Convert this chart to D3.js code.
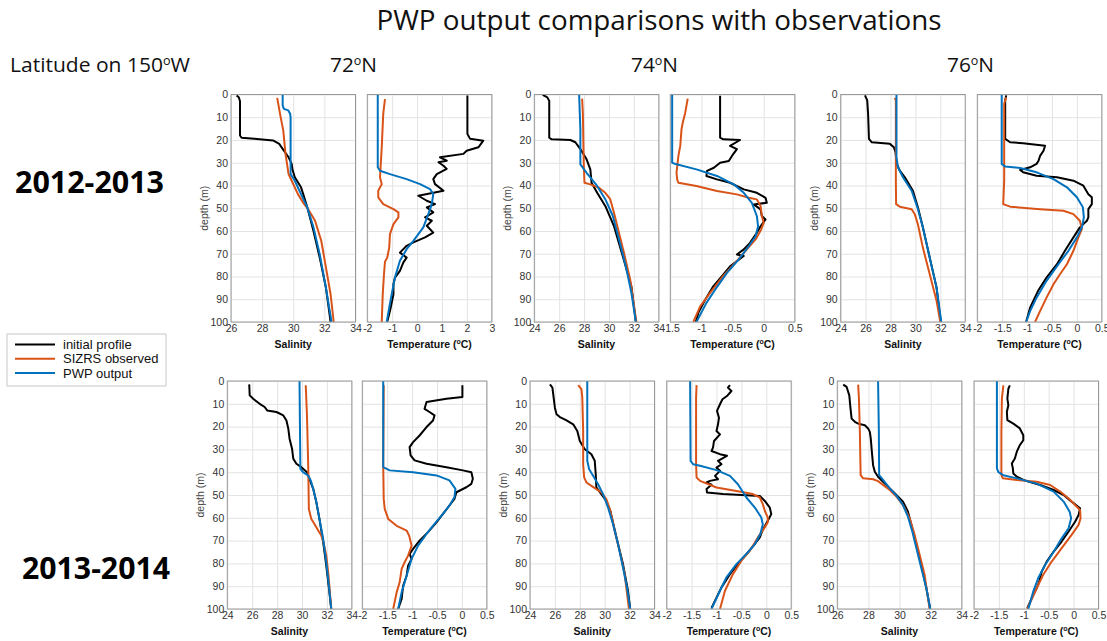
<!DOCTYPE html>
<html>
<head>
<meta charset="utf-8">
<script src="https://cdn.jsdelivr.net/npm/d3@7"></script>
<style>
  html, body { margin: 0; padding: 0; background: #fff; }
  svg { display: block; }
</style>
</head>
<body>
<svg id="chart" width="1107" height="641"></svg>
<script>
// ---------------- DATA (depth m, value) ----------------
const years = ["2012-2013", "2013-2014"];
const latitudes = ["72", "74", "76"];
const seriesNames = ["initial profile", "SIZRS observed", "PWP output"];

// Tick labels / axis domains
const depthTicks = [0,10,20,30,40,50,60,70,80,90,100];
const salTicks26 = [26,28,30,32,34];
const salTicks24 = [24,26,28,30,32,34];
const tempTicksA = [-2,-1,0,1,2,3];
const tempTicksB = [-1.5,-1,-0.5,0,0.5];
const tempTicksC = [-2,-1.5,-1,-0.5,0,0.5];

// 2012-2013, 72N salinity
const s72a_init = [[0.4,26.36],[1.2,26.5],[3,26.58],[18,26.58],[19,26.68],[19.5,27.5],[20.2,28.7],[21.7,29.1],[24.7,29.4],[27.6,29.7],[30.5,29.9],[33,29.95],[36.4,30.1],[40.8,30.5],[44,30.65],[49.6,30.9],[60,31.3],[71.7,31.7],[84.9,32.1],[100,32.4]];
const s72a_obs  = [[1.5,28.97],[8.5,29.15],[15.9,29.36],[26,29.5],[35,29.7],[37.9,29.9],[43.8,30.3],[48.2,30.7],[50.4,30.96],[55.5,31.4],[64.3,31.8],[76,32.1],[87.8,32.4],[100,32.6]];
const s72a_pwp  = [[0,29.32],[4.8,29.32],[6.3,29.4],[7,29.68],[8.5,29.8],[10,29.83],[35,29.83],[37.9,30.1],[43.8,30.5],[49.6,30.9],[58.4,31.3],[70.2,31.7],[85,32.1],[100,32.46]];
// 2012-2013, 72N temperature
const t72a_init = [[0.4,2.02],[17.3,2.02],[19.5,2.13],[20.3,2.66],[23.2,2.46],[24.7,1.99],[26.1,1.86],[27.6,0.92],[29.1,1.19],[29.8,0.86],[31.3,1.06],[32.7,1.19],[35,0.79],[37.2,0.65],[39.4,0.72],[42.3,1.06],[44.5,0.05],[46.7,0.39],[48.2,0.72],[49.6,0.39],[51.8,0.65],[54,0.32],[55.5,0.59],[57.7,0.39],[60.7,0.65],[62.8,0.32],[65,-0.15],[66.5,-0.42],[69.5,-0.69],[71.7,-0.42],[73.8,-0.55],[77.5,-0.69],[80.5,-0.89],[83.4,-0.95],[87.8,-0.95],[93.7,-1.06],[100,-1.2]];
const t72a_obs  = [[2,-1.29],[8.5,-1.36],[23.2,-1.42],[36.4,-1.49],[39.4,-1.42],[42.3,-1.56],[45.2,-1.56],[48.2,-1.36],[50.4,-0.95],[51.8,-0.75],[54,-0.75],[57,-0.95],[61.4,-1.09],[67.3,-1.12],[71.7,-1.2],[73.5,-1.29],[79,-1.33],[87.8,-1.38],[100,-1.42]];
const t72a_pwp  = [[0,-1.58],[32,-1.58],[33.5,-1.49],[35,-1.09],[37.2,-0.42],[39.4,0.12],[41.6,0.52],[43.8,0.65],[48.2,0.59],[52.6,0.45],[58.4,0.25],[61.4,0.05],[64.3,-0.15],[68,-0.42],[73.1,-0.69],[80.5,-0.89],[87.8,-1.02],[93.7,-1.12],[100,-1.22]];
// 2012-2013, 74N salinity
const s74a_init = [[0.2,24.68],[1.3,25.05],[2.8,25.2],[19,25.2],[19.7,25.4],[20,26.9],[21,27.3],[24,27.7],[28.5,28.2],[32.9,28.5],[38.8,28.6],[43.2,29.05],[49,29.7],[57.9,30.4],[71,31.1],[84.3,31.8],[100,32.16]];
const s74a_obs  = [[1.8,27.84],[8,27.9],[30,27.97],[38.8,28.03],[39.5,28.5],[41,29.2],[43.2,29.7],[46,30.1],[52,30.4],[60.8,30.8],[69.6,31.2],[81.3,31.7],[100,32.2]];
const s74a_pwp  = [[0,27.6],[15.3,27.7],[30.7,27.7],[34.4,28.2],[40.2,29.05],[46,29.7],[53.3,30.3],[63.6,30.8],[75.5,31.35],[87.2,31.8],[100,32.16]];
// 2012-2013, 74N temperature
const t74a_init = [[0.6,-0.7],[19,-0.7],[19.7,-0.65],[20,-0.38],[22.6,-0.54],[24,-0.43],[27,-0.51],[29.2,-0.56],[30,-0.7],[32.2,-0.8],[33.6,-0.91],[35.8,-0.92],[37.3,-0.75],[38.8,-0.54],[41.7,-0.32],[43.2,-0.11],[45.4,0.03],[47.6,0.05],[48.3,-0.16],[50.5,-0.05],[53.4,-0.03],[54.9,0.03],[57.9,-0.05],[60.8,-0.11],[65.2,-0.22],[68.1,-0.32],[70.3,-0.43],[71,-0.32],[75.5,-0.54],[79.2,-0.65],[84.3,-0.81],[90.2,-0.94],[96,-1.05],[100,-1.09]];
const t74a_obs  = [[1.8,-1.22],[8,-1.26],[12.4,-1.3],[15.3,-1.32],[22.6,-1.34],[27,-1.37],[34.4,-1.4],[37.3,-1.39],[38.8,-1.37],[40.2,-1.08],[42.4,-0.75],[43.9,-0.43],[45.4,-0.24],[46.1,-0.11],[49,-0.05],[53.4,-0.03],[56.4,0],[59.3,-0.04],[63.7,-0.13],[68.1,-0.27],[73.1,-0.43],[79.7,-0.65],[87.2,-0.86],[93.1,-1.02],[100,-1.13]];
const t74a_pwp  = [[0,-1.47],[30,-1.47],[30.7,-1.4],[32.9,-1.08],[35.8,-0.75],[39.5,-0.48],[43.2,-0.32],[47.6,-0.19],[53.4,-0.11],[57.9,-0.09],[62.3,-0.13],[66.7,-0.24],[72.5,-0.4],[78.4,-0.59],[85.8,-0.78],[91.6,-0.92],[100,-1.08]];
// 2012-2013, 76N salinity
const s76a_init = [[0.4,25.95],[2.6,26.13],[8.5,26.2],[19.5,26.27],[21,26.5],[21.7,27.95],[23.2,28.27],[25.4,28.4],[30.5,28.5],[33.5,28.75],[36.4,29.15],[42.3,29.8],[49.6,30.2],[58.4,30.6],[71.7,31.15],[84.9,31.7],[100,32.03]];
const s76a_obs  = [[1.5,28.35],[2.6,28.43],[37.9,28.43],[48.2,28.45],[49.3,28.75],[50.4,29.7],[52.6,29.95],[57,30.2],[67.3,30.6],[79,31.15],[90.7,31.7],[100,32]];
const s76a_pwp  = [[0,28.48],[27.6,28.48],[32,28.6],[36.4,29],[42.3,29.7],[49.6,30.16],[58.4,30.6],[71.7,31.15],[84.9,31.7],[100,32.08]];
// 2012-2013, 76N temperature
const t76a_init = [[0.4,-1.42],[2.6,-1.44],[19.5,-1.44],[21,-1.34],[21.4,-1.08],[22.5,-0.64],[24.7,-0.67],[27,-0.74],[29.1,-0.77],[30.5,-0.81],[32,-0.94],[33.2,-1.14],[34.2,-1.08],[35.7,-0.81],[36.4,-0.4],[37.9,-0.07],[40.1,0.13],[43.8,0.23],[45.2,0.3],[48.2,0.3],[50.4,0.23],[54,0.23],[55.5,0.2],[58.4,0.06],[62.8,-0.07],[68.7,-0.24],[74.6,-0.4],[80.5,-0.61],[85.9,-0.77],[93.7,-0.94],[100,-1.02]];
const t76a_obs  = [[1.2,-1.42],[4.1,-1.46],[37.9,-1.46],[48.2,-1.48],[49.3,-1.34],[50.4,-0.74],[51.1,-0.27],[52.6,-0.07],[55.5,0.06],[59.2,0.1],[62.8,0.03],[68.7,-0.07],[74.6,-0.2],[79,-0.34],[83.4,-0.47],[89.3,-0.61],[95.2,-0.74],[100,-0.84]];
const t76a_pwp  = [[0,-1.51],[30.5,-1.51],[31.7,-1.44],[32.3,-1.14],[34.2,-0.81],[37.2,-0.47],[40.8,-0.2],[45.2,0],[49.6,0.12],[54,0.14],[58.4,0.1],[62.8,0],[68.7,-0.17],[74.6,-0.37],[81.9,-0.61],[89.3,-0.81],[95.2,-0.94],[100,-1.02]];
// 2013-2014, 72N salinity
const s72b_init = [[1.5,25.76],[6.3,25.8],[7.8,26.08],[10,26.6],[11.4,27],[12.9,27.2],[13.6,27.95],[15.1,28.5],[17.3,28.75],[20.9,28.9],[25.3,29],[29.7,29.2],[34.1,29.3],[36.3,29.55],[37.8,29.95],[40,30.4],[42.9,30.6],[47.3,30.9],[53.1,31.15],[60.5,31.4],[70.7,31.7],[81,31.95],[92.7,32.2],[100,32.35]];
const s72b_obs  = [[1.9,30.3],[15.1,30.4],[37,30.5],[56.1,30.55],[60.5,30.75],[62.7,31],[65.6,31.3],[67.8,31.55],[70.7,31.73],[76.6,31.95],[85.4,32.13],[100,32.35]];
const s72b_pwp  = [[0,29.8],[38.5,29.87],[40,30.08],[41.4,30.48],[43.6,30.7],[47.3,30.9],[53.1,31.15],[60.5,31.4],[69.3,31.7],[79.5,31.95],[89.8,32.16],[100,32.35]];
// 2013-2014, 72N temperature
const t72b_init = [[1.9,0.01],[7,0.01],[7.8,-0.31],[9.2,-0.71],[12.2,-0.75],[13.6,-0.65],[15.1,-0.55],[17.3,-0.58],[20.2,-0.71],[23.9,-0.85],[26.8,-0.98],[29,-1.05],[32.6,-1.03],[34.8,-0.95],[36.3,-0.71],[37.8,-0.31],[39.2,0.02],[40,0.19],[42.9,0.22],[45.1,0.19],[46.6,0.09],[48.8,-0.11],[51.7,-0.15],[54.6,-0.25],[58.3,-0.38],[62,-0.51],[66.3,-0.68],[70,-0.85],[73.6,-0.98],[75.8,-1.05],[78,-1.01],[81,-1.08],[85.4,-1.11],[89.8,-1.18],[95.6,-1.21],[100,-1.28]];
const t72b_obs  = [[1.9,-1.57],[37,-1.58],[51.7,-1.57],[56.1,-1.55],[60.5,-1.48],[63.5,-1.31],[65.6,-1.11],[67.8,-1.06],[72.2,-1.01],[76.6,-1.08],[79.5,-1.15],[82.4,-1.21],[88.3,-1.25],[92.7,-1.31],[100,-1.38]];
const t72b_pwp  = [[0,-1.58],[37.8,-1.58],[39.2,-1.45],[40,-0.98],[41.4,-0.51],[43.6,-0.25],[47.3,-0.13],[51,-0.15],[54.6,-0.25],[58.3,-0.38],[62.7,-0.55],[67.1,-0.71],[72.2,-0.88],[78,-1.01],[85.4,-1.11],[92.7,-1.21],[100,-1.28]];
// 2013-2014, 74N salinity
const s74b_init = [[1.5,25.6],[2.9,25.8],[7.3,25.9],[11.7,26],[14.6,26.13],[15.8,26.4],[17.2,26.9],[19,27.47],[21.9,27.8],[26.3,28],[29.9,28.4],[32.1,28.93],[35,29.2],[40.9,29.28],[46.7,29.33],[49.6,29.73],[52.6,30.13],[56.9,30.45],[62.8,30.7],[71.5,31.07],[80.3,31.47],[92,31.87],[100,32.05]];
const s74b_obs  = [[1.8,27.87],[3.6,28.13],[7.3,28.2],[21.9,28.27],[36.5,28.27],[42.3,28.35],[44.5,28.53],[46,28.93],[47.4,29.33],[48.9,29.73],[51.8,30.13],[56.9,30.45],[65.7,30.8],[74.5,31.2],[84.7,31.6],[100,31.95]];
const s74b_pwp  = [[0,28.6],[35,28.6],[38.7,28.75],[41.6,29.07],[45.3,29.47],[49.6,29.87],[55.5,30.27],[62.8,30.67],[71.5,31.07],[81.8,31.47],[90.5,31.79],[100,32.05]];
// 2013-2014, 74N temperature
const t74b_init = [[1.8,-0.73],[2.9,-0.77],[4.4,-0.7],[6.6,-0.79],[8,-0.88],[10.2,-0.93],[13.1,-0.99],[16.1,-0.95],[19,-0.97],[21.9,-1],[23.4,-0.93],[26.3,-1.05],[29.2,-1.07],[30.7,-1.1],[32.1,-0.93],[32.8,-0.79],[35,-0.97],[36.5,-0.9],[38,-1],[39.4,-0.93],[41.6,-1.03],[43.1,-0.97],[43.8,-1.13],[44.5,-1.2],[45.5,-1.1],[47.4,-1.2],[48.9,-1.19],[49.6,-0.87],[50.4,-0.13],[52.6,-0.03],[55.5,0.07],[58.4,0.1],[61.3,0.03],[65.7,-0.08],[68.6,-0.13],[71.5,-0.23],[75.9,-0.4],[80.3,-0.57],[84.7,-0.73],[90.5,-0.9],[95,-1],[99.5,-1.1]];
const t74b_obs  = [[1.8,-1.4],[7.3,-1.41],[36.5,-1.41],[42.3,-1.4],[43.8,-1.33],[46.7,-1],[48.2,-0.6],[49.6,-0.27],[51.1,-0.13],[54,-0.07],[56.9,-0.03],[59.9,0.03],[62,0.03],[64.2,-0.03],[68.6,-0.17],[74.5,-0.33],[78.8,-0.5],[84.7,-0.67],[92,-0.83],[100,-0.93]];
const t74b_pwp  = [[0,-1.53],[35,-1.52],[36.5,-1.47],[37.2,-1.33],[39.1,-1],[41.6,-0.73],[45.3,-0.57],[51.1,-0.4],[55.5,-0.23],[59.9,-0.1],[62.8,-0.07],[67.2,-0.12],[71.5,-0.23],[75.9,-0.4],[80.3,-0.6],[86.1,-0.8],[92,-0.93],[100,-1.1]];
// 2013-2014, 76N salinity
const s76b_init = [[1.6,26.38],[2.6,26.6],[6.3,26.77],[12.1,26.85],[16.5,26.92],[17.9,27.13],[18.7,27.34],[19.4,27.77],[20.8,27.98],[22.3,28.09],[25.2,28.15],[31,28.22],[36.9,28.3],[39.8,28.41],[42,28.62],[44.2,28.94],[47.1,29.37],[50,29.8],[52.9,30.22],[57.3,30.54],[63.1,30.76],[71.9,31.08],[80.6,31.4],[90.8,31.72],[100,31.97]];
const s76b_obs  = [[1.6,27.34],[7.7,27.39],[22.3,27.45],[41.3,27.5],[42.7,27.66],[43.1,28.3],[43.9,28.62],[45.6,28.94],[47.8,29.37],[50.7,29.8],[54.4,30.22],[60.2,30.65],[67.5,30.97],[76.2,31.29],[85,31.61],[100,31.93]];
const s76b_pwp  = [[0,28.62],[22.3,28.67],[41.3,28.69],[43.4,28.94],[47.1,29.37],[50.3,29.8],[54.4,30.22],[59.5,30.54],[66,30.82],[73.3,31.08],[82.1,31.4],[90.8,31.72],[100,31.97]];
// 2013-2014, 76N temperature
const t76b_init = [[1.9,-1.28],[3.4,-1.31],[7.7,-1.33],[10.6,-1.31],[13.5,-1.34],[17.2,-1.33],[18.7,-1.21],[20.8,-1.08],[23.8,-1.01],[26,-1.01],[28.1,-1.08],[31,-1.14],[34,-1.18],[36.2,-1.24],[38.3,-1.22],[40.6,-1.21],[42,-1.14],[43.4,-1.01],[45.6,-0.67],[47.8,-0.4],[50,-0.2],[52.9,-0.04],[55.8,0.13],[58.8,0.1],[61.7,0.03],[66,-0.1],[70.4,-0.24],[74.8,-0.4],[79.2,-0.54],[83.6,-0.64],[88,-0.69],[90.8,-0.74],[95.2,-0.84],[99.6,-0.93]];
const t76b_obs  = [[1.9,-1.41],[7.7,-1.44],[22.3,-1.45],[41.3,-1.45],[42.7,-1.42],[43.4,-1.14],[44.2,-0.74],[45.6,-0.47],[48.5,-0.27],[51.5,-0.1],[54.4,0.03],[56.6,0.13],[60.2,0.14],[63.1,0.1],[67.5,-0.04],[73.3,-0.24],[79.2,-0.44],[85,-0.61],[90.8,-0.74],[96.6,-0.86],[100,-0.93]];
const t76b_pwp  = [[0,-1.54],[38.3,-1.54],[40,-1.51],[41.3,-1.41],[42.7,-1.14],[45,-0.74],[48.5,-0.4],[52.9,-0.2],[57.3,-0.08],[60.2,-0.05],[64.6,-0.1],[69,-0.24],[74.9,-0.4],[80.6,-0.57],[86.4,-0.71],[92.3,-0.81],[100,-0.91]];

// ---------------- LAYOUT ----------------
const W = 1107, H = 641;
const colors = ["#000000", "#D95319", "#0072BD"];
const panelW = 124.5;
const rowTop = [94.5, 381];
const rowBot = [322, 609];
const lefts = [
  [231, 367.3, 534.3, 670.3, 840.7, 977.3],
  [227.3, 362.3, 530, 666.7, 837.3, 974]
];

const panels = [
  // row 0
  {row:0, col:0, kind:"S", ticks:salTicks26, series:[s72a_init, s72a_obs, s72a_pwp]},
  {row:0, col:1, kind:"T", ticks:tempTicksA, series:[t72a_init, t72a_obs, t72a_pwp]},
  {row:0, col:2, kind:"S", ticks:salTicks24, series:[s74a_init, s74a_obs, s74a_pwp]},
  {row:0, col:3, kind:"T", ticks:tempTicksB, series:[t74a_init, t74a_obs, t74a_pwp]},
  {row:0, col:4, kind:"S", ticks:salTicks24, series:[s76a_init, s76a_obs, s76a_pwp]},
  {row:0, col:5, kind:"T", ticks:tempTicksC, series:[t76a_init, t76a_obs, t76a_pwp]},
  // row 1
  {row:1, col:0, kind:"S", ticks:salTicks24, series:[s72b_init, s72b_obs, s72b_pwp]},
  {row:1, col:1, kind:"T", ticks:tempTicksC, series:[t72b_init, t72b_obs, t72b_pwp]},
  {row:1, col:2, kind:"S", ticks:salTicks24, series:[s74b_init, s74b_obs, s74b_pwp]},
  {row:1, col:3, kind:"T", ticks:tempTicksC, series:[t74b_init, t74b_obs, t74b_pwp]},
  {row:1, col:4, kind:"S", ticks:salTicks26, series:[s76b_init, s76b_obs, s76b_pwp]},
  {row:1, col:5, kind:"T", ticks:tempTicksC, series:[t76b_init, t76b_obs, t76b_pwp]}
];

const svg = d3.select("#chart");
svg.append("rect").attr("width", W).attr("height", H).attr("fill", "#fff");

const tickFont = "'Liberation Sans', Arial, Helvetica, sans-serif";
const titleFont = "'Open Sans', 'Noto Sans', sans-serif";
const fmt = d => String(d);

panels.forEach(p => {
  const x0 = lefts[p.row][p.col];
  const top = rowTop[p.row], bot = rowBot[p.row];
  const dom = [p.ticks[0], p.ticks[p.ticks.length - 1]];
  const x = d3.scaleLinear().domain(dom).range([x0, x0 + panelW]);
  const y = d3.scaleLinear().domain([0, 100]).range([top, bot]);
  const g = svg.append("g");

  // grid
  const gx = g.append("g").attr("transform", `translate(0,${bot})`)
    .call(d3.axisBottom(x).tickValues(p.ticks).tickSize(-(bot - top)).tickFormat(""));
  gx.select(".domain").remove();
  gx.selectAll(".tick line").attr("stroke", "#e3e3e3").attr("stroke-width", 1);
  const gy = g.append("g").attr("transform", `translate(${x0},0)`)
    .call(d3.axisLeft(y).tickValues(depthTicks).tickSize(-panelW).tickFormat(""));
  gy.select(".domain").remove();
  gy.selectAll(".tick line").attr("stroke", "#e3e3e3").attr("stroke-width", 1);

  // x tick labels
  const ax = g.append("g").attr("transform", `translate(0,${bot})`)
    .call(d3.axisBottom(x).tickValues(p.ticks).tickSize(0).tickPadding(3).tickFormat(fmt));
  ax.select(".domain").remove();
  ax.selectAll("text").attr("font-family", tickFont).attr("font-size", 10.5).attr("fill", "#333");

  if (p.kind === "S") {
    const ay = g.append("g").attr("transform", `translate(${x0},0)`)
      .call(d3.axisLeft(y).tickValues(depthTicks).tickSize(0).tickPadding(3).tickFormat(fmt));
    ay.select(".domain").remove();
    ay.selectAll("text").attr("font-family", tickFont).attr("font-size", 10.5).attr("fill", "#333");
    g.append("text")
      .attr("transform", `translate(${x0 - 23},${(top + bot) / 2}) rotate(-90)`)
      .attr("text-anchor", "middle")
      .attr("font-family", tickFont).attr("font-size", 10.5).attr("fill", "#444")
      .text("depth (m)");
  }

  // axis title
  g.append("text")
    .attr("x", x0 + panelW / 2).attr("y", bot + 26)
    .attr("text-anchor", "middle")
    .attr("font-family", tickFont).attr("font-size", 10.5).attr("font-weight", "bold").attr("fill", "#111")
    .text(p.kind === "S" ? "Salinity" : null)
    .call(t => {
      if (p.kind === "T") {
        t.append("tspan").text("Temperature (");
        t.append("tspan").text("o").attr("font-size", 7).attr("dy", -4);
        t.append("tspan").text("C)").attr("dy", 4);
      }
    });

  // lines
  const line = d3.line().x(d => x(d[1])).y(d => y(d[0]));
  const clipId = `clip${p.row}_${p.col}`;
  svg.append("clipPath").attr("id", clipId).append("rect")
    .attr("x", x0).attr("y", top).attr("width", panelW).attr("height", bot - top);
  p.series.forEach((s, i) => {
    g.append("path").datum(s)
      .attr("d", line)
      .attr("fill", "none")
      .attr("stroke", colors[i])
      .attr("stroke-width", 2)
      .attr("stroke-linejoin", "round")
      .attr("clip-path", `url(#${clipId})`);
  });

  // box
  g.append("rect").attr("x", x0).attr("y", top).attr("width", panelW).attr("height", bot - top)
    .attr("fill", "none").attr("stroke", "#999").attr("stroke-width", 1);
});

// ---------------- TEXT ----------------
svg.append("text").attr("x", 659).attr("y", 30).attr("text-anchor", "middle")
  .attr("font-family", titleFont).attr("font-size", 27).attr("fill", "#111")
  .attr("textLength", 565).attr("lengthAdjust", "spacingAndGlyphs")
  .text("PWP output comparisons with observations");

function degText(xp, yp, before, after, size, len) {
  const t = svg.append("text").attr("x", xp).attr("y", yp)
    .attr("font-family", titleFont).attr("font-size", size).attr("fill", "#111");
  if (len) t.attr("textLength", len).attr("lengthAdjust", "spacingAndGlyphs");
  t.append("tspan").text(before);
  t.append("tspan").text("o").attr("font-size", size * 0.6).attr("dy", -size * 0.35);
  t.append("tspan").text(after).attr("dy", size * 0.35);
}
degText(10, 72, "Latitude on 150", "W", 20, 180);
const latX = [330, 631, 947];
latitudes.forEach((l, i) => degText(latX[i], 72, l, "N", 20, 47));

const yearPos = [[15, 193, 149], [22, 579, 148]];
years.forEach((yr, i) => {
  svg.append("text").attr("x", yearPos[i][0]).attr("y", yearPos[i][1])
    .attr("font-family", titleFont).attr("font-size", 30).attr("font-weight", "bold").attr("fill", "#000")
    .attr("textLength", yearPos[i][2]).attr("lengthAdjust", "spacingAndGlyphs")
    .text(yr);
});

// ---------------- LEGEND ----------------
const lg = svg.append("g");
lg.append("rect").attr("x", 7).attr("y", 334).attr("width", 159).attr("height", 52)
  .attr("fill", "#fff").attr("stroke", "#c8c8c8").attr("stroke-width", 1);
const legY = d3.scalePoint().domain(seriesNames).range([344.5, 373]);
seriesNames.forEach((n, i) => {
  lg.append("line").attr("x1", 15).attr("x2", 55).attr("y1", legY(n)).attr("y2", legY(n))
    .attr("stroke", colors[i]).attr("stroke-width", 2);
  lg.append("text").attr("x", 63).attr("y", legY(n) + 4.5)
    .attr("font-family", tickFont).attr("font-size", 13).attr("fill", "#111").text(n);
});
</script>
</body>
</html>
